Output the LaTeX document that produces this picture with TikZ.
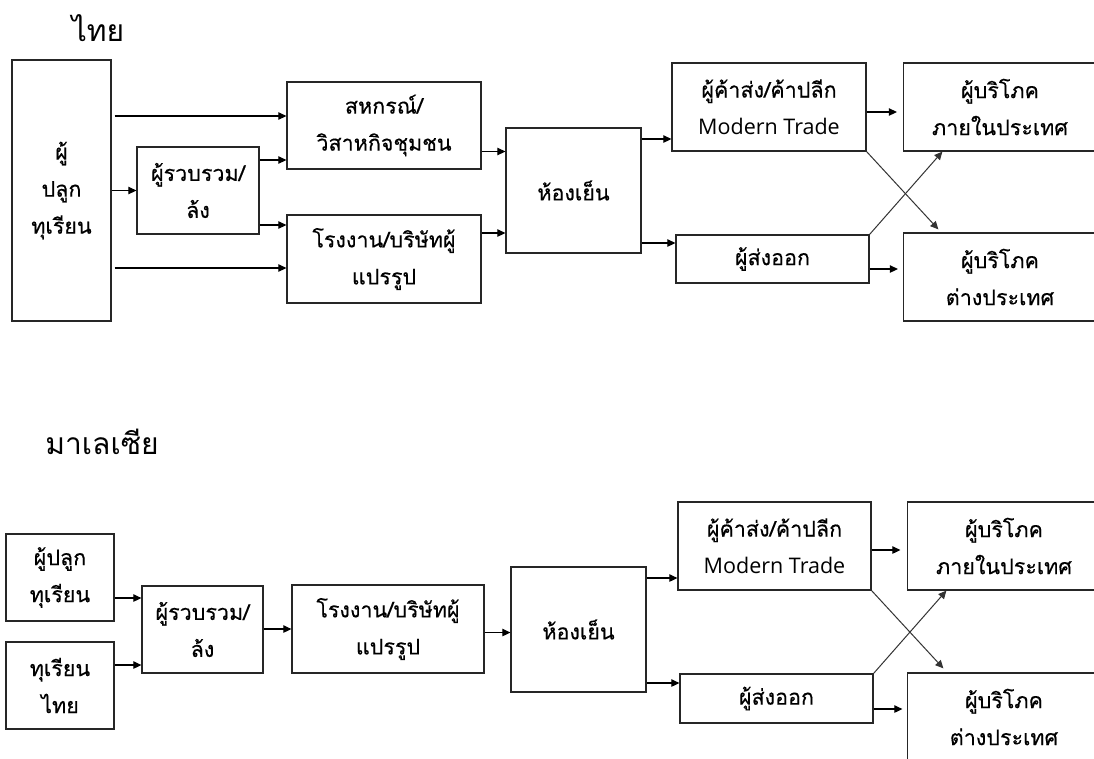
\documentclass[tikz,border=0pt]{standalone}
\usepackage{fontspec}
\setmainfont{Open Sans}
\newfontfamily\thai[Script=Thai]{Loma}
\newfontfamily\thaib[Script=Thai,FakeBold=0.35]{Loma}
\newfontfamily\latin{Open Sans}
\usetikzlibrary{arrows.meta,calc}
\tikzset{
  box/.style={draw=black!85, line width=1.3pt, inner sep=0pt, align=center,
    font=\thaib\fontsize{21.5}{37}\selectfont},
  arr/.style={draw=black, line width=1.2pt, -{Triangle[length=8pt,width=7.5pt]}},
  diag/.style={draw=black!80, line width=1pt, -{Triangle[length=8pt,width=7.5pt]}},
  ttl/.style={font=\thai\fontsize{30}{36}\selectfont, inner sep=0pt}
}
\begin{document}
\begin{tikzpicture}[x=1pt,y=-1pt]
\useasboundingbox (0,0) rectangle (1094,758);
\clip (0,0) rectangle (1094,758);
\fill[white] (0,0) rectangle (1094,758);
% ---------- Thailand ----------
\node[ttl] (t1) at (98,28) {ไทย};
\node[box, minimum width=99pt, minimum height=261pt] (A) at (61.5,190.5) {ผู้\\ปลูก\\ทุเรียน};
\node[box, minimum width=122pt, minimum height=87pt] (B) at (198,190.5) {ผู้รวบรวม/\\ล้ง};
\node[box, minimum width=194pt, minimum height=87pt] (C) at (384,125.5) {สหกรณ์/\\วิสาหกิจชุมชน};
\node[box, minimum width=194pt, minimum height=88pt] (D) at (384,259) {โรงงาน/บริษัทผู้\\แปรรูป};
\node[box, minimum width=135pt, minimum height=125pt] (E) at (573.5,190.5) {ห้องเย็น};
\node[box, minimum width=194pt, minimum height=88pt] (F) at (769,107) {ผู้ค้าส่ง/ค้าปลีก\\{\latin Modern Trade}};
\node[box, minimum width=193pt, minimum height=48pt] (G) at (772.5,259) {ผู้ส่งออก};
\node[box, minimum width=193pt, minimum height=88pt] (H) at (1000,107) {ผู้บริโภค\\ภายในประเทศ};
\node[box, minimum width=193pt, minimum height=88pt] (I) at (1000,277) {ผู้บริโภค\\ต่างประเทศ};

\draw[arr, shorten <=3pt] (A.east |- 0,116) -- (C.west |- 0,116);
\draw[arr] (A.east |- 0,190.5) -- (B.west |- 0,190.5);
\draw[arr, shorten <=3pt] (A.east |- 0,268) -- (D.west |- 0,268);
\draw[arr] (B.east |- 0,160) -- (C.west |- 0,160);
\draw[arr] (B.east |- 0,225) -- (D.west |- 0,225);
\draw[arr] (C.east |- 0,151.5) -- (E.west |- 0,151.5);
\draw[arr] (D.east |- 0,233) -- (E.west |- 0,233);
\draw[arr] (E.east |- 0,139) -- (F.west |- 0,139);
\draw[arr] (E.east |- 0,243) -- (G.west |- 0,243);
\draw[arr, shorten >=6pt] (F.east |- 0,112) -- (H.west |- 0,112);
\draw[arr, shorten >=5pt] (G.east |- 0,269) -- (I.west |- 0,269);
\draw[diag] (F.south east) -- ($(I.north west)+(35.5,-3)$);
\draw[diag] (G.north east) -- ($(H.south west)+(39.5,0)$);

% ---------- Malaysia ----------
\node[ttl] (t2) at (102,442) {มาเลเซีย};
\node[box, minimum width=108pt, minimum height=87pt] (P1) at (60,577.5) {ผู้ปลูก\\ทุเรียน};
\node[box, minimum width=108pt, minimum height=87pt] (P2) at (60,685.5) {ทุเรียน\\ไทย};
\node[box, minimum width=121pt, minimum height=87pt] (B2) at (202.5,629.5) {ผู้รวบรวม/\\ล้ง};
\node[box, minimum width=192pt, minimum height=88pt] (D2) at (388,629) {โรงงาน/บริษัทผู้\\แปรรูป};
\node[box, minimum width=135pt, minimum height=125pt] (E2) at (578.5,629.5) {ห้องเย็น};
\node[box, minimum width=193pt, minimum height=88pt] (F2) at (774.5,546) {ผู้ค้าส่ง/ค้าปลีก\\{\latin Modern Trade}};
\node[box, minimum width=193pt, minimum height=49pt] (G2) at (776.5,698.5) {ผู้ส่งออก};
\node[box, minimum width=193pt, minimum height=88pt] (H2) at (1004,546) {ผู้บริโภค\\ภายในประเทศ};
\node[box, minimum width=193pt, minimum height=88pt] (I2) at (1004,717) {ผู้บริโภค\\ต่างประเทศ};

\draw[arr] (P1.east |- 0,598) -- (B2.west |- 0,598);
\draw[arr] (P2.east |- 0,665) -- (B2.west |- 0,665);
\draw[arr] (B2.east |- 0,629) -- (D2.west |- 0,629);
\draw[arr] (D2.east |- 0,632.5) -- (E2.west |- 0,632.5);
\draw[arr] (E2.east |- 0,578) -- (F2.west |- 0,578);
\draw[arr] (E2.east |- 0,683) -- (G2.west |- 0,683);
\draw[arr, shorten >=6.5pt] (F2.east |- 0,550) -- (H2.west |- 0,550);
\draw[arr, shorten >=4.5pt] (G2.east |- 0,709) -- (I2.west |- 0,709);
\draw[diag] (F2.south east) -- ($(I2.north west)+(36.5,-4)$);
\draw[diag] (G2.north east) -- ($(H2.south west)+(39.5,0)$);
\end{tikzpicture}
\end{document}
